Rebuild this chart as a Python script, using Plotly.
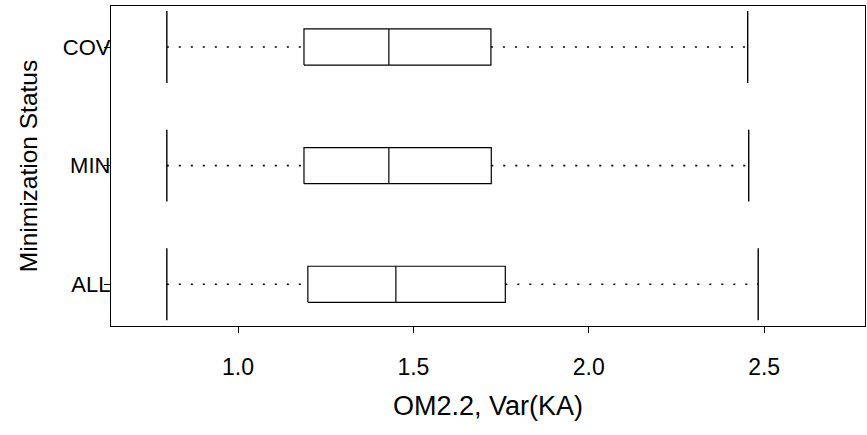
import plotly.graph_objects as go

# ---- data ----
categories = ["ALL", "MIN", "COV"]
whisker_low = [0.797, 0.797, 0.797]
q1 = [1.199, 1.188, 1.188]
median = [1.450, 1.430, 1.430]
q3 = [1.762, 1.722, 1.721]
whisker_high = [2.483, 2.456, 2.453]

x_ticks = [1.0, 1.5, 2.0, 2.5]
x_title = "OM2.2, Var(KA)"
y_title = "Minimization Status"

BOX_H = 0.152   # half height of box (category units)
CAP_H = 0.303   # half height of whisker caps

fig = go.Figure()
line_style = dict(color="black", width=1.2)
for i, cat in enumerate(categories):
    c = i + 1
    # box
    fig.add_trace(go.Scatter(
        x=[q1[i], q3[i], q3[i], q1[i], q1[i]],
        y=[c - BOX_H, c - BOX_H, c + BOX_H, c + BOX_H, c - BOX_H],
        mode="lines", line=line_style, showlegend=False, hoverinfo="skip"))
    # median
    fig.add_trace(go.Scatter(
        x=[median[i], median[i]], y=[c - BOX_H, c + BOX_H],
        mode="lines", line=line_style, showlegend=False, hoverinfo="skip"))
    # whiskers (dotted)
    fig.add_trace(go.Scatter(
        x=[whisker_low[i], q1[i], None, q3[i], whisker_high[i]],
        y=[c, c, None, c, c],
        mode="lines", line=dict(color="black", width=1.6, dash="2px,10px"),
        showlegend=False, hoverinfo="skip"))
    # caps
    fig.add_trace(go.Scatter(
        x=[whisker_low[i], whisker_low[i], None, whisker_high[i], whisker_high[i]],
        y=[c - CAP_H, c + CAP_H, None, c - CAP_H, c + CAP_H],
        mode="lines", line=dict(color="black", width=1.4),
        showlegend=False, hoverinfo="skip"))

font_family = "Liberation Sans, Arial, sans-serif"
fig.update_layout(
    width=867, height=435,
    margin=dict(l=111, r=2, t=6, b=109),
    paper_bgcolor="white", plot_bgcolor="white",
    font=dict(family=font_family, color="black", size=23),
    xaxis=dict(
        range=[0.6378, 2.7875], tickvals=x_ticks, tickformat=".1f",
        showgrid=False, zeroline=False,
        showline=True, mirror=True, linecolor="black", linewidth=1.3,
        ticks="outside", ticklen=6, tickwidth=1.3, tickcolor="black",
        ticklabelstandoff=14,
        tickfont=dict(size=23),
        title=dict(text=x_title, font=dict(size=27), standoff=17),
    ),
    yaxis=dict(
        range=[0.6486, 3.3456], tickvals=[1, 2, 3], ticktext=categories,
        showgrid=False, zeroline=False,
        showline=True, mirror=True, linecolor="black", linewidth=1.3,
        ticks="outside", ticklen=6, tickwidth=1.3, tickcolor="black",
        ticklabelstandoff=-11,
        tickfont=dict(size=22),
        title=dict(text=y_title, font=dict(size=24.5), standoff=18),
    ),
)

fig.write_html("out.html")
